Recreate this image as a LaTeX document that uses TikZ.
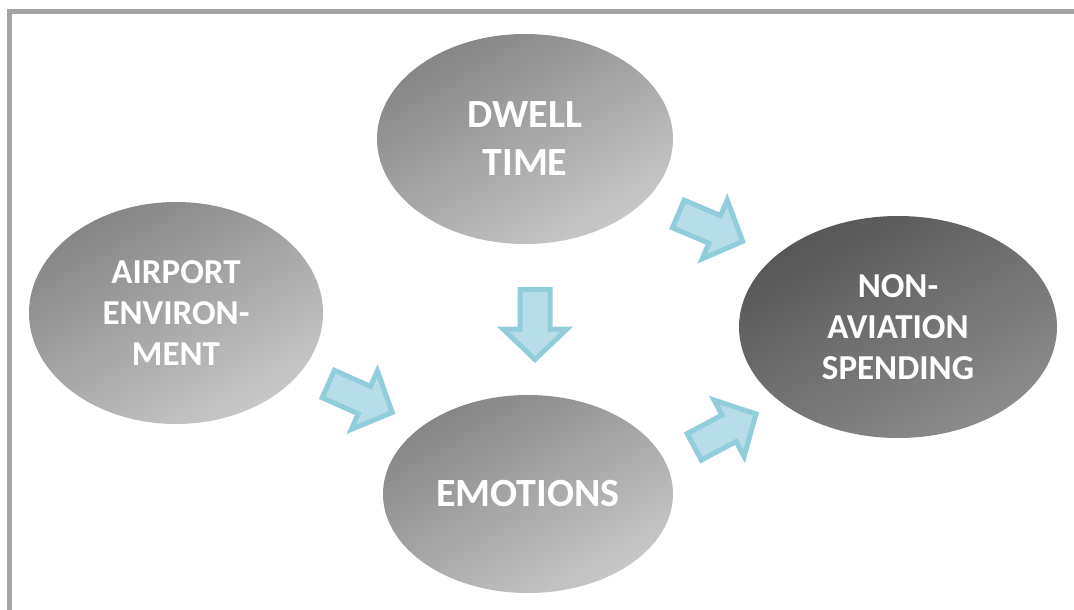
\documentclass[tikz,border=0pt]{standalone}
\usepackage{fontspec}
\setmainfont{Carlito}
\usetikzlibrary{shapes.geometric}

\definecolor{framegray}{HTML}{A5A5A5}
\definecolor{lightA}{HTML}{858585}
\definecolor{lightB}{HTML}{C8C8C8}
\definecolor{darkA}{HTML}{565656}
\definecolor{darkB}{HTML}{8C8C8C}
\definecolor{arrowfill}{HTML}{B7DEE8}
\definecolor{arrowline}{HTML}{92CDDC}

\tikzset{
  bubble/.style={ellipse, inner sep=0pt, align=center, text=white,
    font=\bfseries},
  lightbubble/.style={bubble, top color=lightA, bottom color=lightB,
    shading angle=30},
  darkbubble/.style={bubble, top color=darkA, bottom color=darkB,
    shading angle=30},
  bigtext/.style={font=\bfseries\fontsize{40}{48}\selectfont},
  smalltext/.style={font=\bfseries\fontsize{35}{41}\selectfont},
  arrowbody/.style={fill=arrowfill, draw=arrowline, line width=5pt,
    line join=miter},
  pics/fatarrow/.style={code={
    \draw[arrowbody] (2.5,-15) -- (42,-15) -- (42,-32) -- (72.5,0)
      -- (42,32) -- (42,15) -- (2.5,15) -- cycle;
  }}
}

\begin{document}
\begin{tikzpicture}[x=1pt, y=-1pt]
  \useasboundingbox (0,0) rectangle (1074,610);

  % open frame: top and left sides only
  \draw[framegray, line width=5pt, line join=miter]
    (1080,12) -- (9.5,12) -- (9.5,616);

  % the four factors
  \node[lightbubble, bigtext, minimum width=296pt, minimum height=210pt]
    (dwell) at (525,139) {DWELL\\TIME};
  \node[lightbubble, smalltext, minimum width=294pt, minimum height=222pt]
    (env) at (176,313) {AIRPORT\\ENVIRON-\\MENT};
  \node[lightbubble, bigtext, minimum width=290pt, minimum height=198pt]
    (emo) at (528,494) {EMOTIONS};
  \node[darkbubble, smalltext, minimum width=318pt, minimum height=222pt]
    (spend) at (898,327) {NON-\\AVIATION\\SPENDING};

  % block arrows between the factors
  \pic[rotate=-90] at (535,287) {fatarrow};
  \pic[rotate=-24] at (326,383) {fatarrow};
  \pic[rotate=-23] at (676,213) {fatarrow};
  \pic[rotate=28]  at (692,448) {fatarrow};
\end{tikzpicture}
\end{document}
